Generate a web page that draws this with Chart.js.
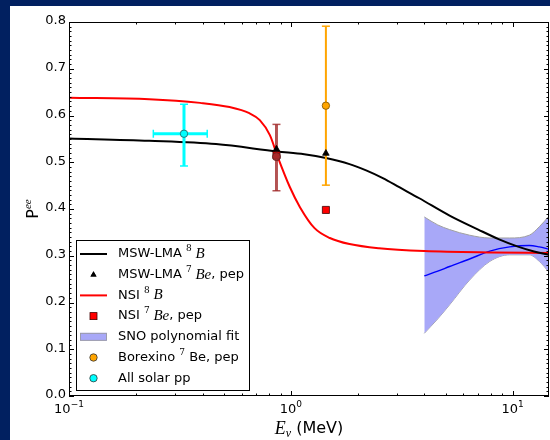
<!DOCTYPE html>
<html lang="en">
<head>
<meta charset="UTF-8" />
<title>Pee vs E</title>
<script src="https://cdn.jsdelivr.net/npm/chart.js@4.4.1/dist/chart.umd.min.js"></script>
<style>
  body { margin: 0; background: #012060; width: 550px; height: 440px; overflow: hidden; }
  #wrap { position: absolute; left: 10px; top: 6px; width: 540px; height: 434px; background: #fff; }
</style>
</head>
<body>
<div id="wrap"><canvas id="pee" width="540" height="434"></canvas></div>
<script>
// curves (energy in MeV)
var mswE = [0.1, 0.23, 0.46, 0.87, 1.15, 1.44, 1.84, 2.2, 2.6, 3.1, 3.8, 5.2, 7.0, 8.7, 10.5, 12.5, 14.6];
var mswP = [0.551, 0.546, 0.539, 0.523, 0.517, 0.509, 0.496, 0.482, 0.466, 0.446, 0.423, 0.386, 0.356, 0.335, 0.320, 0.309, 0.302];

var nsiE = [0.1, 0.23, 0.39, 0.53, 0.65, 0.725, 0.805, 0.874, 0.99, 1.1, 1.28, 1.5, 1.84, 2.5, 4.0, 8.0, 14.6];
var nsiP = [0.638, 0.635, 0.627, 0.618, 0.605, 0.590, 0.558, 0.511, 0.447, 0.404, 0.359, 0.338, 0.325, 0.316, 0.310, 0.307, 0.306];

var snoE = [4.0, 4.6, 5.2, 6.4, 7.9, 9.7, 11.9, 13.2, 14.6];
var snoFit = [0.257, 0.267, 0.277, 0.293, 0.310, 0.319, 0.322, 0.319, 0.314];
var snoUpper = [0.383, 0.366, 0.356, 0.344, 0.338, 0.338, 0.344, 0.362, 0.385];
var snoLower = [0.134, 0.165, 0.195, 0.248, 0.288, 0.302, 0.302, 0.288, 0.265];

// 7Be / pep predictions
var beE = [0.862, 1.44];
var mswBe = [0.528, 0.519];
var nsiBe = [0.515, 0.398];

// measurements: [E, P, Plow, Phigh]
var borexino = [1.44, 0.621, 0.451, 0.791];
var brownPt = [0.862, 0.512, 0.439, 0.581];
var ppPt = [0.33, 0.561, 0.492, 0.624];
var ppErrE = [0.24, 0.42];

var yTicks = [0, 0.1, 0.2, 0.3, 0.4, 0.5, 0.6, 0.7, 0.8];
var xTicks = [0.1, 1, 10];
var xTickExp = ['\u22121', '0', '1'];

function pts(xs, ys) {
  return xs.map(function (x, i) { return { x: x, y: ys[i] }; });
}

function errBar(e, lo, hi, color, w, order) {
  return {
    data: [{ x: e, y: lo }, { x: e, y: hi }],
    showLine: true, borderColor: color, borderWidth: w,
    pointStyle: 'line', pointRadius: 4, pointBorderColor: color, pointBorderWidth: 1.5,
    order: order
  };
}

function marker(xs, ys, style, r, fill, edge, order) {
  return {
    data: pts(xs, ys), showLine: false, pointStyle: style, pointRadius: r,
    pointBackgroundColor: fill, pointBorderColor: edge, pointBorderWidth: 0.8, order: order
  };
}

function curve(xs, ys, color, w, order) {
  return {
    data: pts(xs, ys), showLine: true, borderColor: color, borderWidth: w, pointRadius: 0,
    cubicInterpolationMode: 'monotone', order: order
  };
}

// draw a run of text pieces with different fonts
function rich(ctx, parts, x, y, align) {
  var total = 0;
  parts.forEach(function (p) { ctx.font = p.f; p.w = ctx.measureText(p.t).width; total += p.w; });
  var cx = align === 'center' ? x - total / 2 : (align === 'right' ? x - total : x);
  ctx.textAlign = 'left';
  ctx.textBaseline = 'middle';
  parts.forEach(function (p) {
    ctx.font = p.f;
    ctx.fillText(p.t, cx, y + (p.dy || 0));
    cx += p.w;
  });
}

var SANS = '13px "DejaVu Sans"';
var SUP = '9px "DejaVu Serif"';
var ITAL = 'italic 15px "Liberation Serif"';

var frame = {
  id: 'frame',
  afterDraw: function (chart) {
    var ctx = chart.ctx, a = chart.chartArea;
    var xs = chart.scales.x, ys = chart.scales.y;
    ctx.save();
    ctx.strokeStyle = '#000';
    ctx.fillStyle = '#000';
    ctx.lineWidth = 1;
    ctx.strokeRect(a.left + 0.5, a.top + 0.5, a.right - a.left - 1, a.bottom - a.top - 1);

    ctx.beginPath();
    // y ticks, both sides
    for (var k = 0; k <= 80; k++) {
      var py = Math.round(ys.getPixelForValue(k / 100)) + 0.5;
      var len = k % 10 === 0 ? 5 : 2.5;
      ctx.moveTo(a.left, py); ctx.lineTo(a.left + len, py);
      ctx.moveTo(a.right, py); ctx.lineTo(a.right - len, py);
    }
    // x ticks, top and bottom
    [0.1, 1, 10].forEach(function (dec) {
      for (var m = 1; m <= 9; m++) {
        var v = dec * m;
        if (v > xs.max) return;
        var px = Math.round(xs.getPixelForValue(v)) + 0.5;
        var l = m === 1 ? 5 : 2.5;
        ctx.moveTo(px, a.bottom); ctx.lineTo(px, a.bottom - l);
        ctx.moveTo(px, a.top); ctx.lineTo(px, a.top + l);
      }
    });
    ctx.stroke();

    // tick labels
    yTicks.forEach(function (v) {
      rich(ctx, [{ t: v.toFixed(1), f: SANS }], a.left - 3, ys.getPixelForValue(v) - 1, 'right');
    });
    xTicks.forEach(function (v, i) {
      rich(ctx, [{ t: '10', f: SANS }, { t: xTickExp[i], f: '9px "DejaVu Sans"', dy: -5 }],
        xs.getPixelForValue(v), a.bottom + 14, 'center');
    });

    // axis titles
    rich(ctx, [{ t: 'E', f: 'italic 18px "Liberation Serif"' }, { t: '\u03bd', f: 'italic 12px "Liberation Serif"', dy: 5 },
      { t: ' (MeV)', f: '16px "DejaVu Sans"' }], (a.left + a.right) / 2, 423, 'center');
    ctx.save();
    ctx.translate(24, (a.top + a.bottom) / 2);
    ctx.rotate(-Math.PI / 2);
    rich(ctx, [{ t: 'P', f: '16px "DejaVu Sans"' }, { t: 'ee', f: 'italic 11px "Liberation Serif"', dy: -6 }], 0, 0, 'center');
    ctx.restore();

    // legend
    var lx = 66, ly = 234, lw = 173, lh = 150;
    ctx.fillStyle = '#fff';
    ctx.fillRect(lx, ly, lw, lh);
    ctx.strokeStyle = '#000';
    ctx.strokeRect(lx + 0.5, ly + 0.5, lw, lh);
    var hx0 = 70, hx1 = 97, hc = 83.5, tx = 108;
    var rowY = function (i) { return 248 + i * 20.7; };
    var rows = [
      [{ t: 'MSW-LMA ', f: SANS }, { t: '8', f: SUP, dy: -5 }, { t: ' B', f: ITAL }],
      [{ t: 'MSW-LMA ', f: SANS }, { t: '7', f: SUP, dy: -5 }, { t: ' Be', f: ITAL }, { t: ', pep', f: SANS }],
      [{ t: 'NSI ', f: SANS }, { t: '8', f: SUP, dy: -5 }, { t: ' B', f: ITAL }],
      [{ t: 'NSI ', f: SANS }, { t: '7', f: SUP, dy: -5 }, { t: ' Be', f: ITAL }, { t: ', pep', f: SANS }],
      [{ t: 'SNO polynomial fit', f: SANS }],
      [{ t: 'Borexino ', f: SANS }, { t: '7', f: SUP, dy: -5 }, { t: ' Be, pep', f: SANS }],
      [{ t: 'All solar pp', f: SANS }]
    ];
    ctx.fillStyle = '#000';
    rows.forEach(function (r, i) { rich(ctx, r, tx, rowY(i), 'left'); });

    ctx.lineWidth = 2;
    ctx.strokeStyle = '#000';
    ctx.beginPath(); ctx.moveTo(hx0, rowY(0)); ctx.lineTo(hx1, rowY(0)); ctx.stroke();
    ctx.strokeStyle = '#ff0000';
    ctx.beginPath(); ctx.moveTo(hx0, rowY(2)); ctx.lineTo(hx1, rowY(2)); ctx.stroke();
    ctx.lineWidth = 0.8;
    Chart.helpers.drawPoint(ctx, { pointStyle: 'triangle', radius: 3.5, rotation: 0, borderWidth: 0 }, hc, rowY(1));
    ctx.fillStyle = '#000'; ctx.fill();
    ctx.fillStyle = '#ff0000'; ctx.strokeStyle = '#400';
    ctx.fillRect(hc - 3.5, rowY(3) - 3.5, 7, 7); ctx.strokeRect(hc - 3.5, rowY(3) - 3.5, 7, 7);
    ctx.fillStyle = '#a8a8f8'; ctx.strokeStyle = '#999';
    ctx.fillRect(hx0, rowY(4) - 4, hx1 - hx0, 8); ctx.strokeRect(hx0 + 0.5, rowY(4) - 3.5, hx1 - hx0 - 1, 7);
    [['#ffa500', 5], ['#00ffff', 6]].forEach(function (c) {
      ctx.beginPath(); ctx.arc(hc, rowY(c[1]), 3.7, 0, Math.PI * 2);
      ctx.fillStyle = c[0]; ctx.fill(); ctx.strokeStyle = '#333'; ctx.stroke();
    });
    ctx.restore();
  }
};

new Chart('pee', {
  type: 'scatter',
  data: {
    datasets: [
      { data: pts(snoE, snoLower), showLine: true, borderColor: '#a0a0a0', borderWidth: 1, pointRadius: 0,
        cubicInterpolationMode: 'monotone', fill: false, order: 20 },
      { data: pts(snoE, snoUpper), showLine: true, borderColor: '#a0a0a0', borderWidth: 1, pointRadius: 0,
        cubicInterpolationMode: 'monotone', fill: '-1', backgroundColor: '#a8a8f8', order: 19 },
      curve(snoE, snoFit, '#0000ff', 1.4, 18),
      curve(nsiE, nsiP, '#ff0000', 2, 17),
      curve(mswE, mswP, '#000000', 2, 16),
      errBar(ppPt[0], ppPt[2], ppPt[3], '#00ffff', 3, 15),
      {
        data: [{ x: ppErrE[0], y: ppPt[1] }, { x: ppErrE[1], y: ppPt[1] }],
        showLine: true, borderColor: '#00ffff', borderWidth: 3,
        pointStyle: 'line', pointRadius: 4, pointRotation: 90, pointBorderColor: '#00ffff', pointBorderWidth: 1.5, order: 15
      },
      errBar(borexino[0], borexino[2], borexino[3], '#ffa500', 2, 14),
      errBar(brownPt[0], brownPt[2], brownPt[3], 'rgba(160,40,40,0.8)', 3, 13),
      marker(beE, nsiBe, 'rect', 5, '#ff0000', '#400000', 12),
      marker([brownPt[0]], [brownPt[1]], 'circle', 4, 'rgba(160,45,45,0.9)', '#602020', 11),
      marker([borexino[0]], [borexino[1]], 'circle', 3.7, '#ffa500', '#7a5000', 10),
      marker([ppPt[0]], [ppPt[1]], 'circle', 3.7, '#00ffff', '#206060', 9),
      marker(beE, mswBe, 'triangle', 3.8, '#000000', '#000000', 8)
    ]
  },
  options: {
    responsive: false,
    animation: false,
    layout: { autoPadding: false, padding: { top: 16, right: 1, left: 0, bottom: 0 } },
    plugins: { legend: { display: false }, tooltip: { enabled: false } },
    scales: {
      x: {
        type: 'logarithmic', min: 0.1, max: 14.6,
        grid: { display: false }, border: { display: false }, ticks: { display: false },
        afterFit: function (s) { s.height = 44; }
      },
      y: {
        min: 0, max: 0.8,
        grid: { display: false }, border: { display: false }, ticks: { display: false },
        afterFit: function (s) { s.width = 59; }
      }
    }
  },
  plugins: [frame]
});
</script>
</body>
</html>
